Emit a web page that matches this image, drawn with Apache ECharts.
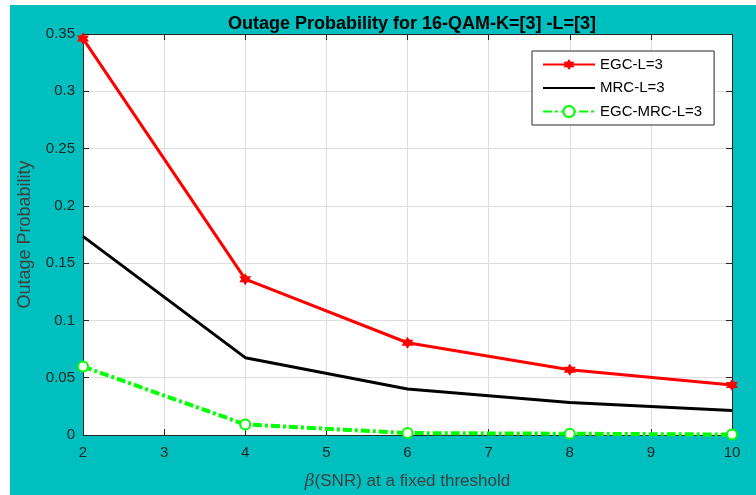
<!DOCTYPE html>
<html>
<head>
<meta charset="utf-8">
<script src="https://cdn.jsdelivr.net/npm/echarts@6/dist/echarts.min.js"></script>
<style>
html,body{margin:0;padding:0;background:#ffffff;}
#chart{width:756px;height:495px;}
</style>
</head>
<body>
<div id="chart"></div>
<script>
// ---- data ----
const snr = [2, 4, 6, 8, 10];
const egcL3 = [0.346, 0.136, 0.0805, 0.057, 0.0437];
const mrcL3 = [0.1734, 0.0675, 0.0402, 0.0284, 0.0214];
const egcMrcL3 = [0.0597, 0.0092, 0.0017, 0.0011, 0.0004];
const seriesNames = ['EGC-L=3', 'MRC-L=3', 'EGC-MRC-L=3'];
const titleText = 'Outage Probability for 16-QAM-K=[3] -L=[3]';
const xName = '{i|β}(SNR) at a fixed threshold';
const yName = 'Outage Probability';

const pairs = (xs, ys) => xs.map((x, i) => [x, ys[i]]);
const FONT = '"Liberation Sans", Arial, Helvetica, sans-serif';
const AX = '#262626';
const TEAL = '#00bfbf';
const hexagram = 'path://M0,-10L2.9,-5L8.66,-5L5.8,0L8.66,5L2.9,5L0,10L-2.9,5L-8.66,5L-5.8,0L-8.66,-5L-2.9,-5Z';

const chart = echarts.init(document.getElementById('chart'), null, {renderer: 'canvas'});
chart.setOption({
  animation: false,
  backgroundColor: 'transparent',
  textStyle: {fontFamily: FONT},
  graphic: [{
    type: 'rect', z: -10, silent: true,
    shape: {x: 10, y: 5, width: 746, height: 490},
    style: {fill: TEAL}
  }],
  title: {
    text: titleText,
    left: 407, top: 10, textAlign: 'center',
    textStyle: {fontFamily: FONT, fontWeight: 'bold', fontSize: 18, color: '#000'}
  },
  legend: {
    orient: 'vertical',
    left: 532, top: 51,
    padding: [6, 12, 6, 10],
    itemGap: 8.5,
    itemWidth: 52, itemHeight: 14,
    backgroundColor: '#ffffff',
    borderColor: AX, borderWidth: 1, borderRadius: 0,
    textStyle: {fontFamily: FONT, fontSize: 15, color: '#000'},
    data: [
      {name: seriesNames[0]},
      {name: seriesNames[1], itemStyle: {opacity: 0}},
      {name: seriesNames[2]}
    ]
  },
  grid: {
    left: 83, right: 24, top: 34, bottom: 58,
    show: true, backgroundColor: '#ffffff', borderWidth: 0
  },
  xAxis: [{
    type: 'value', min: 2, max: 10, interval: 1,
    name: xName, nameLocation: 'middle', nameGap: 38,
    nameTextStyle: {fontFamily: FONT, fontSize: 17, color: '#404040',
      rich: {i: {fontStyle: 'italic', fontFamily: 'DejaVu Serif', fontSize: 17, color: '#404040'}}},
    axisLine: {show: true, lineStyle: {color: AX, width: 1}},
    axisTick: {show: true, inside: true, length: 6, lineStyle: {color: AX}},
    axisLabel: {fontFamily: FONT, fontSize: 15, color: AX, margin: 10},
    splitLine: {show: true, lineStyle: {color: '#dedede', width: 1}}
  }, {
    type: 'value', min: 2, max: 10, interval: 1, position: 'top',
    axisLine: {show: true, onZero: false, lineStyle: {color: AX, width: 1}},
    axisTick: {show: true, inside: true, length: 6, lineStyle: {color: AX}},
    axisLabel: {show: false}, splitLine: {show: false}
  }],
  yAxis: [{
    type: 'value', min: 0, max: 0.35, interval: 0.05,
    name: yName, nameLocation: 'middle', nameGap: 49,
    nameTextStyle: {fontFamily: FONT, fontSize: 18, color: '#404040'},
    axisLine: {show: true, lineStyle: {color: AX, width: 1}},
    axisTick: {show: true, inside: true, length: 6, lineStyle: {color: AX}},
    axisLabel: {fontFamily: FONT, fontSize: 15, color: AX, margin: 8,
      formatter: v => String(parseFloat(v.toFixed(2)))},
    splitLine: {show: true, lineStyle: {color: '#dedede', width: 1}}
  }, {
    type: 'value', min: 0, max: 0.35, interval: 0.05, position: 'right',
    axisLine: {show: true, onZero: false, lineStyle: {color: AX, width: 1}},
    axisTick: {show: true, inside: true, length: 6, lineStyle: {color: AX}},
    axisLabel: {show: false}, splitLine: {show: false}
  }],
  series: [{
    name: seriesNames[0], type: 'line', clip: false,
    data: pairs(snr, egcL3),
    color: '#ff0000',
    lineStyle: {color: '#ff0000', width: 3},
    symbol: hexagram, symbolSize: 12,
    itemStyle: {color: '#ff0000'},
    z: 4
  }, {
    name: seriesNames[1], type: 'line', clip: false,
    data: pairs(snr, mrcL3),
    color: '#000000',
    lineStyle: {color: '#000000', width: 3},
    symbol: 'none',
    z: 3
  }, {
    name: seriesNames[2], type: 'line', clip: false,
    data: pairs(snr, egcMrcL3),
    color: '#00ff00',
    lineStyle: {color: '#00ff00', width: 4, type: [9, 3, 3, 3]},
    symbol: 'emptyCircle', symbolSize: 10,
    itemStyle: {color: '#00ff00', borderColor: '#00ff00', borderWidth: 3},
    z: 5
  }]
});
</script>
</body>
</html>
